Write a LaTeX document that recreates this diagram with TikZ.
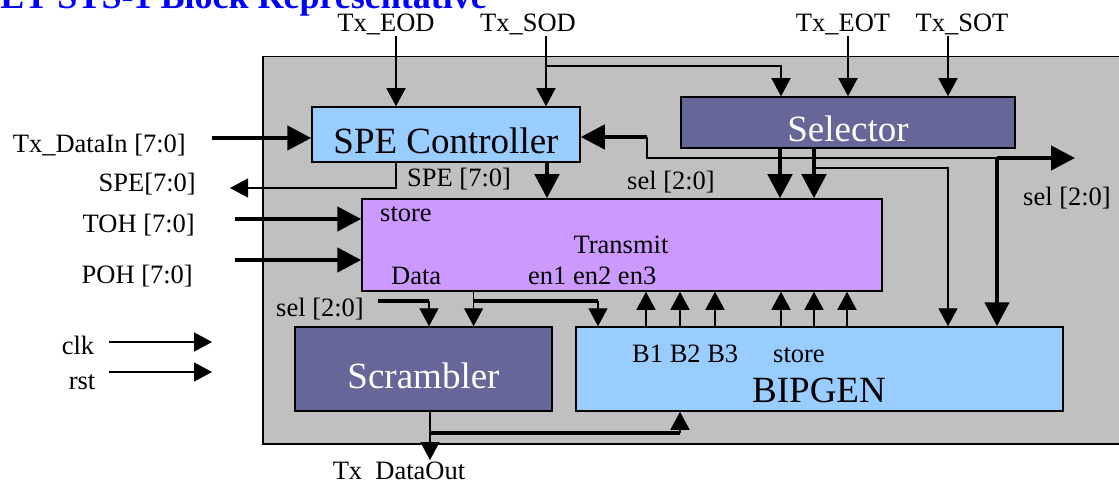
\documentclass[tikz,border=0pt]{standalone}
\usepackage{fontspec}
\setmainfont{Liberation Serif}
\usetikzlibrary{arrows.meta,positioning}
\definecolor{boxgray}{HTML}{C0C0C0}
\definecolor{ltblue}{HTML}{99CCFF}
\definecolor{slate}{HTML}{666699}
\definecolor{lilac}{HTML}{CC99FF}
\newcommand{\lblfont}{\fontsize{26.5}{29}\selectfont}
\newcommand{\bigfont}{\fontsize{37}{40}\selectfont}

\begin{document}
\begin{tikzpicture}[
    x=1pt, y=-1pt,
    block/.style={draw=black, line width=1.5pt, rectangle, inner sep=0pt, font=\bigfont, text height=38pt, text depth=0pt},
    lbl/.style={inner sep=0pt, font=\lblfont, anchor=base},
    arrow/.style={line width=1.4pt, -{Triangle[length=18pt,width=19pt]}},
    busarrow/.style={line width=4.5pt, -{Triangle[length=24pt,width=24pt]}},
    wire/.style={line width=1.4pt},
    bus/.style={line width=4.5pt}
  ]
  \useasboundingbox (0,0) rectangle (1119,481);
  \clip (0,0) rectangle (1119,481);

  % Title (cut off at the top)
  \node (title) [anchor=base east, inner sep=0pt, text=blue, font=\fontsize{36}{40}\selectfont\bfseries] at (487,9) {ET STS-1 Block Representative};

  % Chip outline
  \node (chip) [draw=black, line width=1.5pt, fill=boxgray, inner sep=0pt, minimum width=868, minimum height=387, anchor=north west] at (262,56) {};

  % Blocks
  \node (spe) [block, fill=ltblue, minimum width=268, minimum height=55] at (446,134.5) {SPE Controller};
  \node (selc) [block, fill=slate, text=white, minimum width=334, minimum height=51] at (848,122.5) {Selector};
  \node (tx) [block, fill=lilac, minimum width=520, minimum height=92] at (622,245) {};
  \node (scr) [block, fill=slate, text=white, minimum width=257, minimum height=84] at (423.5,369) {Scrambler};
  \node (bip) [block, fill=ltblue, minimum width=487, minimum height=84] at (819.5,369) {};

  % Text inside Transmit and BIPGEN
  \node (txstore) [lbl, anchor=base west] at (380,222) {store};
  \node (txname) [lbl] at (621,254) {Transmit};
  \node (txdata) [lbl, anchor=base west] at (391,284) {Data};
  \node (txen) [lbl, anchor=base west] at (528,284) {en1 en2 en3};
  \node (bipb) [lbl, anchor=base west] at (632,362) {B1 B2 B3};
  \node (bipstore) [lbl, anchor=base west] at (773,362) {store};
  \node (bipname) [inner sep=0pt, font=\bigfont, anchor=base] at (819,402) {BIPGEN};

  % Port labels
  \node (eod) [lbl] at (386,32) {Tx\_EOD};
  \node (sod) [lbl] at (528,32) {Tx\_SOD};
  \node (eot) [lbl] at (843,32) {Tx\_EOT};
  \node (sot) [lbl] at (962,32) {Tx\_SOT};
  \node (datain) [lbl, anchor=base east] at (186,153) {Tx\_DataIn [7:0]};
  \node (speout) [lbl, anchor=base east] at (196,192) {SPE[7:0]};
  \node (toh) [lbl, anchor=base east] at (195,233) {TOH [7:0]};
  \node (poh) [lbl, anchor=base east] at (193,283) {POH [7:0]};
  \node (clk) [lbl] at (78,354) {clk};
  \node (rst) [lbl] at (82,389) {rst};
  \node (spebus) [lbl, anchor=base west] at (407,187) {SPE [7:0]};
  \node (seltop) [lbl] at (671,190) {sel [2:0]};
  \node (selleft) [lbl, anchor=base east] at (364,316) {sel [2:0]};
  \node (selright) [lbl, anchor=base west] at (1023,206) {sel [2:0]};
  \node (dataout) [lbl] at (399,479) {Tx\_DataOut};

  % Wire ends and corners
  \coordinate (eodin) at (396,36);
  \coordinate (sodin) at (546,36);
  \coordinate (sodtap) at (546,66);
  \coordinate (eotin) at (848,36);
  \coordinate (sotin) at (948,36);
  \coordinate (datainend) at (212,138);
  \coordinate (speoutend) at (230,188);
  \coordinate (tohend) at (235,219);
  \coordinate (pohend) at (235,260);
  \coordinate (clkend) at (109,342);
  \coordinate (clktip) at (212,342);
  \coordinate (rstend) at (109,372);
  \coordinate (rsttip) at (212,372);
  \coordinate (selbranch) at (814,168);
  \coordinate (selbus) at (997,158);
  \coordinate (selout) at (1075,158);
  \coordinate (fbcorner) at (647,158);
  \coordinate (fbtop) at (647,137);
  \coordinate (selleftend) at (378,301);
  \coordinate (selcorner) at (429,301);
  \coordinate (datatap) at (473.6,301);
  \coordinate (bipin) at (598,301);
  \coordinate (scrtap) at (430,433);
  \coordinate (bipbot) at (680,433);
  \coordinate (dataoutend) at (430,460);

  % Inputs from the top
  \draw [arrow] (eodin) -- (eodin |- spe.north);
  \draw [arrow] (sodin) -- (sodin |- spe.north);
  \draw [arrow] (sodtap) -| ([xshift=-67pt]selc.north);
  \draw [arrow] (eotin) -- (eotin |- selc.north);
  \draw [arrow] (sotin) -- (sotin |- selc.north);

  % Left side
  \draw [busarrow] (datainend) -- (datainend -| spe.west);
  \draw [arrow] ([xshift=-50pt]spe.south) |- (speoutend);
  \draw [busarrow] (tohend) -- (tohend -| tx.west);
  \draw [busarrow] (pohend) -- (pohend -| tx.west);
  \draw [arrow] (clkend) -- (clktip);
  \draw [arrow] (rstend) -- (rsttip);

  % SPE Controller and Selector to Transmit
  \draw [busarrow] ([xshift=101pt]spe.south) -- ([xshift=101pt]spe.south |- tx.north);
  \draw [busarrow] ([xshift=-68pt]selc.south) -- ([xshift=-68pt]selc.south |- tx.north);
  \draw [busarrow] ([xshift=-34pt]selc.south) -- ([xshift=-34pt]selc.south |- tx.north);
  \draw [arrow] (selbranch) -| ([xshift=128.5pt]bip.north);

  % sel bus
  \draw [wire] (selbus) -- (fbcorner) -- (fbtop);
  \draw [busarrow] (fbtop) -- (fbtop -| spe.east);
  \draw [busarrow] (selbus) -- (selout);
  \draw [busarrow] (selbus) -- (selbus |- bip.north);

  % Transmit to Scrambler and BIPGEN
  \draw [bus] (selleftend) -- (selcorner);
  \draw [arrow] (selcorner) -- (selcorner |- scr.north);
  \draw [arrow] (datatap |- tx.south) -- (datatap |- scr.north);
  \draw [bus] (datatap) -- (bipin);
  \draw [arrow] (bipin) -- (bipin |- bip.north);
  \foreach \x in {646,680,715,781,814,847}
    \draw [arrow] (bip.north -| \x,0) -- (tx.south -| \x,0);

  % Scrambler output
  \draw [arrow] ([xshift=6.5pt]scr.south) -- (dataoutend);
  \draw [bus] (scrtap) -- (bipbot);
  \draw [arrow] (bipbot) -- (bipbot |- bip.south);
\end{tikzpicture}
\end{document}
